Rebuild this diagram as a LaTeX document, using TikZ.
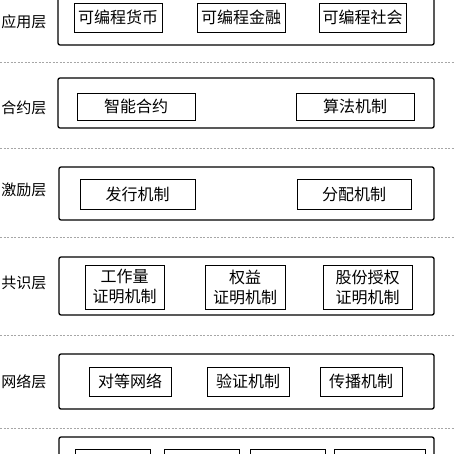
\documentclass[tikz,border=0pt]{standalone}
\usepackage{fontspec}
\setmainfont{Noto Sans CJK SC}
\tikzset{layer/.style={line width=1.3pt,rounded corners=2pt},
  mech/.style={draw,line width=.8pt,inner sep=1pt,align=center,font=\fontsize{16}{20}\selectfont},
  sep/.style={gray!70,dash pattern=on 2pt off 1.5pt,line width=.6pt},
  lname/.style={anchor=east,inner sep=0pt,font=\fontsize{15}{18}\selectfont}}
\begin{document}
\begin{tikzpicture}[x=1pt,y=-1pt]
\useasboundingbox (0,0) rectangle (454,454);
% layers
\draw[layer] (58,-10) rectangle (434,45);
\draw[layer] (58,78) rectangle (434,128);
\draw[layer] (59,167) rectangle (434,220);
\draw[layer] (59,257) rectangle (434,315);
\draw[layer] (59,354) rectangle (434,409);
\draw[layer] (59,437) rectangle (434,490);
\foreach \y in {62,148,237,335,428}{\draw[sep] (0,\y)--(454,\y);}
% layer names
\node[lname] (app) at (46.5,22) {应用层}; \node[lname] (con) at (46.5,108) {合约层};
\node[lname] (inc) at (46.5,190) {激励层}; \node[lname] (cns) at (46.5,283) {共识层};
\node[lname] (net) at (46.5,382) {网络层};
% application layer
\node[mech,minimum width=88,minimum height=29] (money) at (118,17.5) {可编程货币};
\node[mech,minimum width=88,minimum height=29] (fin) at (241,17.5) {可编程金融};
\node[mech,minimum width=87,minimum height=29] (soc) at (362.5,17.5) {可编程社会};
% contract layer
\node[mech,minimum width=118,minimum height=27] (smart) at (136,106.5) {智能合约};
\node[mech,minimum width=118,minimum height=27] (algo) at (355,106.5) {算法机制};
% incentive layer
\node[mech,minimum width=115,minimum height=30] (issue) at (137.5,194) {发行机制};
\node[mech,minimum width=114,minimum height=30] (alloc) at (354,194) {分配机制};
% consensus layer
\node[mech,minimum width=79,minimum height=44] (pow) at (124.5,287) {工作量\\证明机制};
\node[mech,minimum width=80,minimum height=44] (pos) at (245,287) {权益\\证明机制};
\node[mech,minimum width=89,minimum height=44] (dpos) at (367.5,287) {股份授权\\证明机制};
% network layer
\node[mech,minimum width=82,minimum height=29] (p2p) at (130,381.5) {对等网络};
\node[mech,minimum width=82,minimum height=29] (veri) at (248,381.5) {验证机制};
\node[mech,minimum width=82,minimum height=29] (prop) at (361,381.5) {传播机制};
% data layer
\foreach \n/\x/\w in {d1/112.5/75,d2/201.5/75,d3/287.5/75,d4/379.5/91}{
  \node[mech,minimum width=\w,minimum height=31] (\n) at (\x,464.5) {};}
\end{tikzpicture}
\end{document}
